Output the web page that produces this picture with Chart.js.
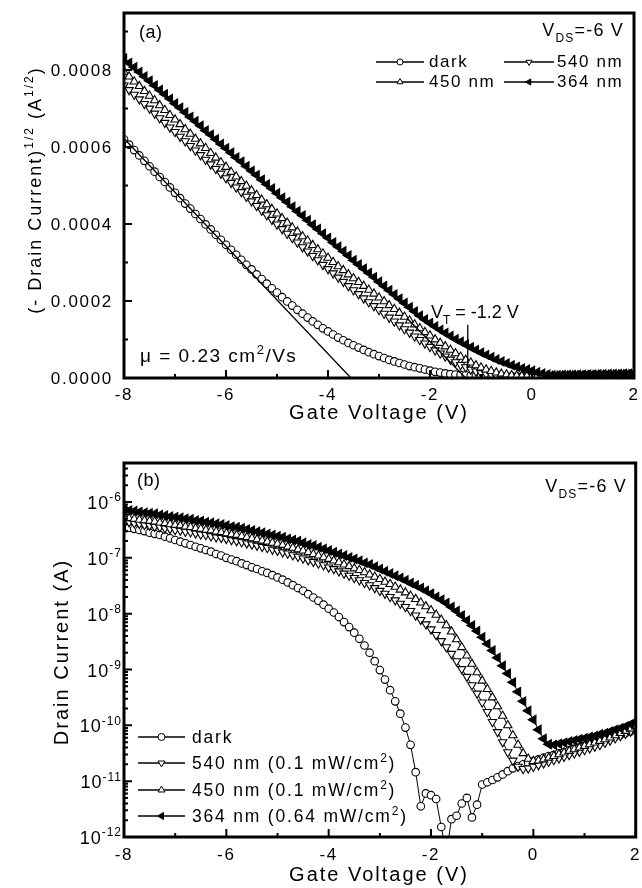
<!DOCTYPE html>
<html><head><meta charset="utf-8">
<script src="https://cdn.jsdelivr.net/npm/chart.js@4.4.1/dist/chart.umd.min.js"></script>
<style>
html,body{margin:0;padding:0;background:#fff;}
#wrap{position:relative;width:642px;height:888px;background:#fff;}
canvas{position:absolute;left:0;}
#c1{top:0;} #c2{top:430px;}
</style></head><body>
<div id="wrap"><canvas id="c1" width="642" height="430"></canvas><canvas id="c2" width="642" height="458"></canvas></div>
<script>
// ---------- shared gate-voltage grid (V) ----------
const gateV = [
-8.0,-7.9,-7.8,-7.7,-7.6,-7.5,-7.4,-7.3,-7.2,-7.1,
-7.0,-6.9,-6.8,-6.7,-6.6,-6.5,-6.4,-6.3,-6.2,-6.1,
-6.0,-5.9,-5.8,-5.7,-5.6,-5.5,-5.4,-5.3,-5.2,-5.1,
-5.0,-4.9,-4.8,-4.7,-4.6,-4.5,-4.4,-4.3,-4.2,-4.1,
-4.0,-3.9,-3.8,-3.7,-3.6,-3.5,-3.4,-3.3,-3.2,-3.1,
-3.0,-2.9,-2.8,-2.7,-2.6,-2.5,-2.4,-2.3,-2.2,-2.1,
-2.0,-1.9,-1.8,-1.7,-1.6,-1.5,-1.4,-1.3,-1.2,-1.1,
-1.0,-0.9,-0.8,-0.7,-0.6,-0.5,-0.4,-0.3,-0.2,-0.1,
0.0,0.1,0.2,0.3,0.4,0.5,0.6,0.7,0.8,0.9,
1.0,1.1,1.2,1.3,1.4,1.5,1.6,1.7,1.8,1.9,
2.0];

// ---------- panel (a): (-Drain Current)^1/2 (A^1/2) ----------
const sqrtDark = [
6.20e-4,6.06e-4,5.92e-4,5.78e-4,5.64e-4,5.50e-4,5.36e-4,5.22e-4,5.09e-4,4.95e-4,
4.81e-4,4.67e-4,4.53e-4,4.40e-4,4.26e-4,4.13e-4,3.99e-4,3.86e-4,3.72e-4,3.59e-4,
3.46e-4,3.33e-4,3.20e-4,3.07e-4,2.94e-4,2.82e-4,2.69e-4,2.57e-4,2.45e-4,2.33e-4,
2.22e-4,2.10e-4,1.99e-4,1.88e-4,1.77e-4,1.67e-4,1.57e-4,1.47e-4,1.38e-4,1.29e-4,
1.21e-4,1.13e-4,1.05e-4,0.98e-4,0.91e-4,0.85e-4,0.79e-4,0.73e-4,0.67e-4,0.62e-4,
0.57e-4,0.52e-4,0.47e-4,0.43e-4,0.39e-4,0.35e-4,0.31e-4,0.28e-4,0.25e-4,0.22e-4,
0.19e-4,0.16e-4,0.14e-4,0.12e-4,0.10e-4,0.09e-4,0.08e-4,0.07e-4,0.06e-4,0.05e-4,
0.05e-4,0.045e-4,0.045e-4,0.04e-4,0.04e-4,0.04e-4,0.04e-4,0.04e-4,0.04e-4,0.04e-4,
0.045e-4,0.045e-4,0.05e-4,0.05e-4,0.052e-4,0.055e-4,0.057e-4,0.06e-4,0.062e-4,0.064e-4,
0.066e-4,0.068e-4,0.07e-4,0.072e-4,0.074e-4,0.077e-4,0.08e-4,0.083e-4,0.086e-4,0.089e-4,
0.092e-4];
const sqrt540 = [
7.60e-4,7.48e-4,7.36e-4,7.24e-4,7.12e-4,7.00e-4,6.87e-4,6.75e-4,6.63e-4,6.51e-4,
6.39e-4,6.27e-4,6.15e-4,6.03e-4,5.91e-4,5.79e-4,5.67e-4,5.55e-4,5.43e-4,5.31e-4,
5.19e-4,5.07e-4,4.95e-4,4.83e-4,4.71e-4,4.59e-4,4.47e-4,4.35e-4,4.23e-4,4.11e-4,
3.99e-4,3.87e-4,3.75e-4,3.64e-4,3.52e-4,3.40e-4,3.29e-4,3.17e-4,3.06e-4,2.94e-4,
2.83e-4,2.72e-4,2.61e-4,2.50e-4,2.39e-4,2.28e-4,2.18e-4,2.07e-4,1.97e-4,1.87e-4,
1.77e-4,1.67e-4,1.57e-4,1.47e-4,1.37e-4,1.27e-4,1.18e-4,1.08e-4,0.99e-4,0.90e-4,
0.81e-4,0.72e-4,0.64e-4,0.56e-4,0.48e-4,0.41e-4,0.34e-4,0.28e-4,0.22e-4,0.17e-4,
0.13e-4,0.10e-4,0.08e-4,0.07e-4,0.06e-4,0.05e-4,0.05e-4,0.045e-4,0.045e-4,0.045e-4,
0.045e-4,0.045e-4,0.045e-4,0.046e-4,0.048e-4,0.05e-4,0.052e-4,0.055e-4,0.058e-4,0.06e-4,
0.063e-4,0.066e-4,0.069e-4,0.072e-4,0.075e-4,0.078e-4,0.081e-4,0.084e-4,0.087e-4,0.09e-4,
0.093e-4];
const sqrt450 = [
7.95e-4,7.83e-4,7.70e-4,7.58e-4,7.45e-4,7.33e-4,7.21e-4,7.08e-4,6.96e-4,6.83e-4,
6.71e-4,6.59e-4,6.46e-4,6.34e-4,6.21e-4,6.09e-4,5.97e-4,5.84e-4,5.72e-4,5.60e-4,
5.48e-4,5.35e-4,5.23e-4,5.11e-4,4.99e-4,4.87e-4,4.75e-4,4.63e-4,4.51e-4,4.39e-4,
4.27e-4,4.15e-4,4.03e-4,3.91e-4,3.80e-4,3.68e-4,3.57e-4,3.45e-4,3.34e-4,3.23e-4,
3.12e-4,3.01e-4,2.90e-4,2.80e-4,2.69e-4,2.59e-4,2.49e-4,2.39e-4,2.29e-4,2.19e-4,
2.09e-4,1.99e-4,1.89e-4,1.79e-4,1.69e-4,1.59e-4,1.49e-4,1.39e-4,1.29e-4,1.19e-4,
1.10e-4,1.00e-4,0.91e-4,0.82e-4,0.73e-4,0.64e-4,0.55e-4,0.47e-4,0.40e-4,0.33e-4,
0.27e-4,0.22e-4,0.18e-4,0.14e-4,0.11e-4,0.09e-4,0.07e-4,0.06e-4,0.05e-4,0.05e-4,
0.05e-4,0.05e-4,0.05e-4,0.05e-4,0.055e-4,0.057e-4,0.06e-4,0.062e-4,0.065e-4,0.067e-4,
0.07e-4,0.072e-4,0.075e-4,0.078e-4,0.08e-4,0.083e-4,0.086e-4,0.089e-4,0.092e-4,0.095e-4,
0.098e-4];
const sqrt364 = [
8.30e-4,8.18e-4,8.07e-4,7.95e-4,7.83e-4,7.72e-4,7.60e-4,7.48e-4,7.37e-4,7.25e-4,
7.13e-4,7.02e-4,6.90e-4,6.78e-4,6.67e-4,6.55e-4,6.43e-4,6.32e-4,6.20e-4,6.08e-4,
5.97e-4,5.85e-4,5.73e-4,5.62e-4,5.50e-4,5.38e-4,5.27e-4,5.15e-4,5.03e-4,4.92e-4,
4.80e-4,4.68e-4,4.57e-4,4.45e-4,4.33e-4,4.22e-4,4.10e-4,3.98e-4,3.87e-4,3.75e-4,
3.64e-4,3.52e-4,3.41e-4,3.29e-4,3.18e-4,3.06e-4,2.95e-4,2.84e-4,2.73e-4,2.62e-4,
2.50e-4,2.39e-4,2.28e-4,2.17e-4,2.06e-4,1.95e-4,1.84e-4,1.73e-4,1.62e-4,1.52e-4,
1.43e-4,1.34e-4,1.25e-4,1.17e-4,1.09e-4,1.01e-4,0.94e-4,0.87e-4,0.80e-4,0.73e-4,
0.66e-4,0.60e-4,0.54e-4,0.48e-4,0.43e-4,0.38e-4,0.33e-4,0.29e-4,0.25e-4,0.22e-4,
0.19e-4,0.15e-4,0.12e-4,0.09e-4,0.075e-4,0.075e-4,0.077e-4,0.08e-4,0.082e-4,0.085e-4,
0.088e-4,0.09e-4,0.093e-4,0.096e-4,0.099e-4,0.102e-4,0.105e-4,0.108e-4,0.111e-4,0.114e-4,
0.117e-4];
// extrapolation lines of panel (a)
const darkFitV = [-8.0, -3.55];
const darkFitY = [6.22e-4, 0];
const vtFitV = [-2.45, -1.3];
const vtFitY = [1.55e-4, 0];
const vtMarkV = [-1.26, -1.26];
const vtMarkY = [1.38e-4, 0.28e-4];

// ---------- panel (b): Drain Current (A) ----------
const idDark = [
3.63e-7,3.47e-7,3.31e-7,3.16e-7,3.02e-7,2.82e-7,2.69e-7,2.57e-7,2.40e-7,2.24e-7,
2.09e-7,1.95e-7,1.82e-7,1.70e-7,1.58e-7,1.48e-7,1.38e-7,1.29e-7,1.17e-7,1.10e-7,
1.00e-7,9.33e-8,8.71e-8,7.94e-8,7.41e-8,6.76e-8,6.31e-8,5.75e-8,5.37e-8,4.90e-8,
4.47e-8,4.07e-8,3.63e-8,3.24e-8,2.88e-8,2.57e-8,2.24e-8,1.95e-8,1.70e-8,1.45e-8,
1.23e-8,1.05e-8,8.71e-9,7.08e-9,5.75e-9,4.57e-9,3.55e-9,2.69e-9,2.00e-9,1.41e-9,
9.77e-10,6.61e-10,4.27e-10,2.69e-10,1.62e-10,9.12e-11,4.47e-11,1.45e-11,3.55e-12,6.03e-12,
5.62e-12,4.79e-12,1.51e-12,5.0e-13,2.09e-12,2.40e-12,3.98e-12,5.01e-12,2.24e-12,3.80e-12,
8.71e-12,9.55e-12,1.05e-11,1.17e-11,1.32e-11,1.51e-11,1.70e-11,1.86e-11,2.00e-11,2.14e-11,
2.29e-11,2.45e-11,2.63e-11,2.82e-11,2.95e-11,3.16e-11,3.31e-11,3.55e-11,3.80e-11,3.98e-11,
4.27e-11,4.57e-11,4.79e-11,5.13e-11,5.50e-11,5.89e-11,6.31e-11,6.76e-11,7.24e-11,7.76e-11,
8.32e-11];
const id540 = [
4.47e-7,4.37e-7,4.17e-7,4.07e-7,3.89e-7,3.80e-7,3.63e-7,3.55e-7,3.39e-7,3.31e-7,
3.16e-7,3.09e-7,2.95e-7,2.88e-7,2.75e-7,2.63e-7,2.57e-7,2.45e-7,2.34e-7,2.29e-7,
2.19e-7,2.09e-7,2.00e-7,1.91e-7,1.82e-7,1.74e-7,1.66e-7,1.58e-7,1.51e-7,1.41e-7,
1.35e-7,1.26e-7,1.20e-7,1.12e-7,1.05e-7,9.77e-8,9.12e-8,8.51e-8,7.94e-8,7.41e-8,
6.76e-8,6.31e-8,5.75e-8,5.25e-8,4.79e-8,4.37e-8,3.98e-8,3.55e-8,3.24e-8,2.88e-8,
2.57e-8,2.29e-8,2.00e-8,1.74e-8,1.51e-8,1.32e-8,1.12e-8,9.33e-9,7.76e-9,6.46e-9,
5.25e-9,4.17e-9,3.24e-9,2.51e-9,1.91e-9,1.41e-9,1.02e-9,7.41e-10,5.25e-10,3.72e-10,
2.57e-10,1.74e-10,1.15e-10,7.59e-11,5.01e-11,3.31e-11,2.34e-11,1.82e-11,1.66e-11,1.70e-11,
1.82e-11,1.95e-11,2.09e-11,2.24e-11,2.40e-11,2.57e-11,2.75e-11,2.95e-11,3.16e-11,3.39e-11,
3.63e-11,3.89e-11,4.17e-11,4.47e-11,4.90e-11,5.37e-11,5.89e-11,6.46e-11,7.08e-11,7.76e-11,
8.51e-11];
const id450 = [
5.25e-7,5.13e-7,5.01e-7,4.79e-7,4.68e-7,4.57e-7,4.47e-7,4.27e-7,4.17e-7,3.98e-7,
3.89e-7,3.80e-7,3.63e-7,3.55e-7,3.39e-7,3.31e-7,3.16e-7,3.09e-7,2.95e-7,2.88e-7,
2.75e-7,2.63e-7,2.57e-7,2.45e-7,2.34e-7,2.24e-7,2.14e-7,2.04e-7,1.95e-7,1.86e-7,
1.78e-7,1.70e-7,1.58e-7,1.51e-7,1.41e-7,1.35e-7,1.26e-7,1.17e-7,1.10e-7,1.02e-7,
9.55e-8,8.91e-8,8.32e-8,7.59e-8,7.08e-8,6.46e-8,6.03e-8,5.50e-8,5.01e-8,4.57e-8,
4.17e-8,3.72e-8,3.39e-8,3.02e-8,2.69e-8,2.40e-8,2.09e-8,1.82e-8,1.58e-8,1.35e-8,
1.15e-8,9.55e-9,7.76e-9,6.17e-9,4.79e-9,3.47e-9,2.51e-9,1.78e-9,1.26e-9,8.91e-10,
6.31e-10,4.47e-10,3.16e-10,2.19e-10,1.48e-10,1.00e-10,6.61e-11,4.47e-11,3.16e-11,2.51e-11,
2.29e-11,2.34e-11,2.45e-11,2.63e-11,2.82e-11,3.02e-11,3.24e-11,3.47e-11,3.72e-11,3.98e-11,
4.27e-11,4.57e-11,4.90e-11,5.25e-11,5.62e-11,6.03e-11,6.61e-11,7.24e-11,7.94e-11,8.71e-11,
9.55e-11];
const id364 = [
7.24e-7,7.08e-7,6.92e-7,6.61e-7,6.46e-7,6.31e-7,6.17e-7,5.89e-7,5.75e-7,5.50e-7,
5.37e-7,5.25e-7,5.01e-7,4.90e-7,4.68e-7,4.57e-7,4.37e-7,4.27e-7,4.07e-7,3.98e-7,
3.80e-7,3.63e-7,3.55e-7,3.39e-7,3.24e-7,3.09e-7,2.95e-7,2.82e-7,2.69e-7,2.57e-7,
2.45e-7,2.34e-7,2.19e-7,2.09e-7,2.00e-7,1.86e-7,1.74e-7,1.66e-7,1.55e-7,1.45e-7,
1.35e-7,1.26e-7,1.17e-7,1.10e-7,1.02e-7,9.55e-8,8.91e-8,8.13e-8,7.59e-8,6.92e-8,
6.31e-8,5.75e-8,5.25e-8,4.79e-8,4.37e-8,3.98e-8,3.55e-8,3.24e-8,2.88e-8,2.57e-8,
2.29e-8,2.00e-8,1.78e-8,1.55e-8,1.32e-8,1.12e-8,9.33e-9,7.59e-9,6.17e-9,4.90e-9,
3.80e-9,2.88e-9,2.19e-9,1.62e-9,1.17e-9,8.51e-10,5.89e-10,3.98e-10,2.69e-10,1.82e-10,
1.26e-10,8.32e-11,5.75e-11,4.57e-11,4.47e-11,4.68e-11,4.90e-11,5.13e-11,5.37e-11,5.62e-11,
5.89e-11,6.17e-11,6.46e-11,6.92e-11,7.24e-11,7.76e-11,8.32e-11,8.91e-11,9.55e-11,1.05e-10,
1.15e-10];

// ---------- ticks ----------
const xMajor = [-8,-6,-4,-2,0,2];
const xMinor = [-7,-5,-3,-1,1];
const topYMajor = [0,0.0002,0.0004,0.0006,0.0008];
const topYLabels = ['0.0000','0.0002','0.0004','0.0006','0.0008'];
const topYMinor = [0.0001,0.0003,0.0005,0.0007,0.0009];
const botYMajor = [1e-12,1e-11,1e-10,1e-9,1e-8,1e-7,1e-6];
const botYExp = ['-12','-11','-10','-9','-8','-7','-6'];

// ---------- drawing helpers ----------
const FAM = '"Liberation Sans", Arial, Helvetica, sans-serif';
function setFont(ctx, size, ls){
  ctx.font = size + 'px ' + FAM;
  if ('letterSpacing' in ctx) ctx.letterSpacing = (ls || 0) + 'px';
}
function rich(ctx, parts, x, y, align, size, ls){
  const segs = parts.map(([t,k]) => {
    const s = k === 'n' ? size : Math.round(size * 0.66);
    setFont(ctx, s, ls);
    return {t, k, s, w: ctx.measureText(t).width};
  });
  const total = segs.reduce((a,b) => a + b.w, 0);
  let cx = align === 'right' ? x - total : align === 'center' ? x - total/2 : x;
  ctx.textAlign = 'left'; ctx.textBaseline = 'alphabetic';
  segs.forEach(sg => {
    setFont(ctx, sg.s, ls);
    const dy = sg.k === 'sup' ? -size*0.42 : sg.k === 'sub' ? size*0.32 : 0;
    ctx.fillText(sg.t, cx, y + dy);
    cx += sg.w;
  });
  setFont(ctx, size, 0);
}
function rotRich(ctx, parts, x, y, size, ls){
  ctx.save(); ctx.translate(x, y); ctx.rotate(-Math.PI/2);
  rich(ctx, parts, 0, 0, 'center', size, ls);
  ctx.restore();
}
const markers = {
  dark: {pointStyle:'circle', rotation:0, radius:3.8, fill:'#fff'},
  n540: {pointStyle:'triangle', rotation:180, radius:4.8, fill:'#fff'},
  n450: {pointStyle:'triangle', rotation:0, radius:4.8, fill:'#fff'},
  n364: {pointStyle:'triangle', rotation:270, radius:5.2, fill:'#000'}
};
function legendSym(ctx, key, x1, x2, y, r){
  ctx.save();
  ctx.strokeStyle = '#000'; ctx.lineWidth = 1.6;
  ctx.beginPath(); ctx.moveTo(x1, y); ctx.lineTo(x2, y); ctx.stroke();
  const m = markers[key];
  ctx.fillStyle = m.fill; ctx.lineWidth = 1;
  Chart.helpers.drawPoint(ctx, {pointStyle:m.pointStyle, rotation:m.rotation, radius:r, borderWidth:1}, (x1+x2)/2, y);
  ctx.restore();
}
function series(arr){ return gateV.map((v,i) => ({x:v, y:arr[i]})); }
function pairs(xs, ys){ return xs.map((v,i) => ({x:v, y:ys[i]})); }
function ds(label, arr, key, order){
  const m = markers[key];
  return {label, data: series(arr), showLine:true, borderColor:'#000', borderWidth:1,
    pointStyle:m.pointStyle, pointRotation:m.rotation, pointRadius:m.radius,
    pointBackgroundColor:m.fill, pointBorderColor:'#000', pointBorderWidth:1.1, order};
}
function fitDs(xs, ys){
  return {data: pairs(xs, ys), showLine:true, borderColor:'#000', borderWidth:1.3, pointRadius:0, order:-1};
}
function frameAndTicks(ctx, a, x, y, yMaj, yMin){
  ctx.strokeStyle = '#000';
  ctx.lineWidth = 2;
  ctx.beginPath();
  xMajor.forEach(v => { const p = x.getPixelForValue(v); ctx.moveTo(p, a.bottom); ctx.lineTo(p, a.bottom - 8); });
  xMinor.forEach(v => { const p = x.getPixelForValue(v); ctx.moveTo(p, a.bottom); ctx.lineTo(p, a.bottom - 4); });
  yMaj.forEach(v => { const p = y.getPixelForValue(v); ctx.moveTo(a.left, p); ctx.lineTo(a.left + 8, p); });
  yMin.forEach(v => { const p = y.getPixelForValue(v); ctx.moveTo(a.left, p); ctx.lineTo(a.left + 4, p); });
  ctx.stroke();
  ctx.lineWidth = 3;
  ctx.strokeRect(a.left, a.top, a.right - a.left, a.bottom - a.top);
}

// ---------- panel (a) decorations ----------
const decorA = {
  id:'decorA',
  afterDatasetsDraw(chart){
    const {ctx, chartArea:a, scales:{x, y}} = chart;
    ctx.save();
    ctx.fillStyle = '#000';
    frameAndTicks(ctx, a, x, y, topYMajor, topYMinor);
    xMajor.forEach(v => rich(ctx, [[String(v),'n']], x.getPixelForValue(v), a.bottom + 22, 'center', 17, 1.7));
    topYMajor.forEach((v,i) => rich(ctx, [[topYLabels[i],'n']], a.left - 11, y.getPixelForValue(v) + 6, 'right', 17, 1.7));
    rich(ctx, [['Gate Voltage (V)','n']], 379, 419, 'center', 20, 2);
    rotRich(ctx, [['(- Drain Current)','n'],['1/2','sup'],[' (A','n'],['1/2','sup'],[')','n']], 41, 190, 18, 2);
    rich(ctx, [['(a)','n']], 139, 38, 'left', 18, 0.5);
    rich(ctx, [['V','n'],['DS','sub'],['=-6 V','n']], 624, 36, 'right', 18, 1.2);
    // legend
    legendSym(ctx, 'dark', 376, 424, 62, 3); rich(ctx, [['dark','n']], 429, 67, 'left', 17, 1.6);
    legendSym(ctx, 'n540', 504, 554, 62, 3.5); rich(ctx, [['540 nm','n']], 557, 67, 'left', 17, 1.6);
    legendSym(ctx, 'n450', 376, 424, 82, 3.5); rich(ctx, [['450 nm','n']], 429, 87, 'left', 17, 1.6);
    legendSym(ctx, 'n364', 504, 554, 82, 3.5); rich(ctx, [['364 nm','n']], 557, 87, 'left', 17, 1.6);
    rich(ctx, [['\u03bc = 0.23 cm','n'],['2','sup'],['/Vs','n']], 140, 362, 'left', 19, 1.5);
    rich(ctx, [['V','n'],['T','sub'],[' = -1.2 V','n']], 431, 318, 'left', 18, 0);
    ctx.restore();
  }
};

// ---------- panel (b) decorations ----------
const botYMinor = [];
for (let e = -12; e <= -6; e++) for (let m = 2; m <= 9; m++) { const v = m * Math.pow(10, e); if (v < 5e-6) botYMinor.push(v); }
const decorB = {
  id:'decorB',
  afterDatasetsDraw(chart){
    const {ctx, chartArea:a, scales:{x, y}} = chart;
    ctx.save();
    ctx.fillStyle = '#000';
    frameAndTicks(ctx, a, x, y, botYMajor, botYMinor);
    xMajor.forEach(v => rich(ctx, [[String(v),'n']], x.getPixelForValue(v), a.bottom + 23, 'center', 17, 1.7));
    botYMajor.forEach((v,i) => rich(ctx, [['10','n'],[botYExp[i],'sup']], a.left - 2, y.getPixelForValue(v) + 7, 'right', 18, 1));
    rich(ctx, [['Gate Voltage (V)','n']], 379, 451, 'center', 20, 2);
    rotRich(ctx, [['Drain Current (A)','n']], 68, 222, 20, 2);
    rich(ctx, [['(b)','n']], 137, 56, 'left', 18, 0.5);
    rich(ctx, [['V','n'],['DS','sub'],['=-6 V','n']], 627, 62, 'right', 18, 1.2);
    const rows = [
      ['dark', [['dark','n']]],
      ['n540', [['540 nm (0.1 mW/cm','n'],['2','sup'],[')','n']]],
      ['n450', [['450 nm (0.1 mW/cm','n'],['2','sup'],[')','n']]],
      ['n364', [['364 nm (0.64 mW/cm','n'],['2','sup'],[')','n']]]
    ];
    const ys = [307, 333, 360, 386];
    rows.forEach((r,i) => { legendSym(ctx, r[0], 138, 185, ys[i], r[0]==='dark'?3.5:4); rich(ctx, r[1], 192, ys[i] + 6, 'left', 17.5, 1.8); });
    ctx.restore();
  }
};

const common = {
  responsive:false, animation:false, devicePixelRatio:1, events:[],
  plugins:{legend:{display:false}, tooltip:{enabled:false}},
};

new Chart(document.getElementById('c1'), {
  type:'scatter',
  data:{datasets:[
    ds('364 nm', sqrt364, 'n364', 0),
    ds('450 nm', sqrt450, 'n450', 1),
    ds('540 nm', sqrt540, 'n540', 2),
    ds('dark', sqrtDark, 'dark', 3),
    fitDs(darkFitV, darkFitY),
    fitDs(vtFitV, vtFitY),
    fitDs(vtMarkV, vtMarkY)
  ]},
  options:Object.assign({}, common, {
    layout:{padding:{left:124, right:8, top:13, bottom:52}},
    scales:{
      x:{type:'linear', min:-8, max:2, display:false},
      y:{type:'linear', min:0, max:0.000948, display:false}
    }
  }),
  plugins:[decorA]
});

new Chart(document.getElementById('c2'), {
  type:'scatter',
  data:{datasets:[
    ds('364 nm (0.64 mW/cm2)', id364, 'n364', 0),
    ds('450 nm (0.1 mW/cm2)', id450, 'n450', 1),
    ds('540 nm (0.1 mW/cm2)', id540, 'n540', 2),
    ds('dark', idDark, 'dark', 3)
  ]},
  options:Object.assign({}, common, {
    layout:{padding:{left:124, right:6, top:33, bottom:51}},
    scales:{
      x:{type:'linear', min:-8, max:2, display:false},
      y:{type:'logarithmic', min:1e-12, max:5e-6, display:false}
    }
  }),
  plugins:[decorB]
});
</script>
</body></html>
